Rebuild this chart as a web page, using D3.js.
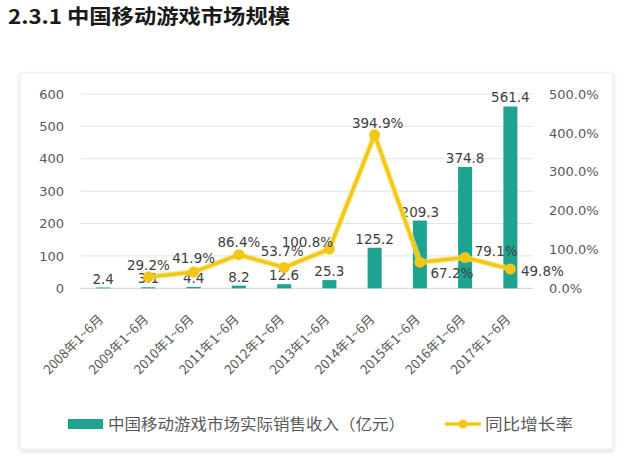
<!DOCTYPE html>
<html><head><meta charset="utf-8">
<script src="https://cdn.jsdelivr.net/npm/d3@7/dist/d3.min.js"></script>
<style>
body{margin:0;background:#fff;}
svg{display:block;}
</style></head>
<body>
<svg id="c" width="640" height="463"></svg>
<script>
const categories = ["2008年1~6月","2009年1~6月","2010年1~6月","2011年1~6月","2012年1~6月","2013年1~6月","2014年1~6月","2015年1~6月","2016年1~6月","2017年1~6月"];
const revenue = [2.4, 3.1, 4.4, 8.2, 12.6, 25.3, 125.2, 209.3, 374.8, 561.4];
const growth = [null, 29.2, 41.9, 86.4, 53.7, 100.8, 394.9, 67.2, 79.1, 49.8];
const leftTicks = [0,100,200,300,400,500,600];
const rightTicks = [0,100,200,300,400,500];
// label offsets for growth labels [dx, dy] relative to point
const growthLabelOffset = [null,[0,-12],[0,-14],[0,-13],[-2,-16],[-22,-7],[3,-12],[32,11],[31,-7],[32,2]];
const title = "2.3.1 中国移动游戏市场规模";
const legendBar = "中国移动游戏市场实际销售收入（亿元）";
const legendLine = "同比增长率";

const teal = "#1fa391", gold = "#f3c814";
const svg = d3.select("#c");
const defs = svg.append("defs");
const f = defs.append("filter").attr("id","sh").attr("x","-5%").attr("y","-5%").attr("width","110%").attr("height","115%");
f.append("feDropShadow").attr("dx",0).attr("dy",2).attr("stdDeviation",2).attr("flood-color","#000").attr("flood-opacity",0.12);

svg.append("text").attr("x",8).attr("y",24).text(title)
  .attr("font-family","'Noto Sans CJK SC', sans-serif").attr("font-weight","bold")
  .attr("font-size",20).attr("fill","#1a1a1a")
  .attr("textLength",282).attr("lengthAdjust","spacingAndGlyphs");

svg.append("rect").attr("x",20).attr("y",73).attr("width",593).attr("height",376)
  .attr("fill","#fff").attr("stroke","#ececec").attr("filter","url(#sh)");

const x = d3.scaleBand().domain(categories).range([80.5,533]).padding(0);
const yL = d3.scaleLinear().domain([0,600]).range([288.3,94]);
const yR = d3.scaleLinear().domain([0,500]).range([288.3,94]);
const cx = d => x(d) + x.bandwidth()/2;
const barW = x.bandwidth()*0.31;

// gridlines
svg.append("g").selectAll("line").data(leftTicks).join("line")
  .attr("x1",80.5).attr("x2",533).attr("y1",d=>yL(d)).attr("y2",d=>yL(d))
  .attr("stroke",d=>d===0?"#d0d0d0":"#e4e4e4").attr("stroke-width",1);

const numFont = "'DejaVu Sans', sans-serif";
// left axis
const axL = svg.append("g").attr("transform","translate(64,0)")
  .call(d3.axisLeft(yL).tickValues(leftTicks).tickSize(0).tickPadding(0));
axL.select(".domain").remove();
axL.selectAll("text").attr("font-family",numFont).attr("font-size",13).attr("fill","#595959");
// right axis
const axR = svg.append("g").attr("transform","translate(549,0)")
  .call(d3.axisRight(yR).tickValues(rightTicks).tickSize(0).tickPadding(0).tickFormat(d=>d.toFixed(1)+"%"));
axR.select(".domain").remove();
axR.selectAll("text").attr("font-family",numFont).attr("font-size",13).attr("fill","#595959");

// bars
svg.append("g").selectAll("rect").data(categories).join("rect")
  .attr("x",(d)=>cx(d)-barW/2).attr("width",barW)
  .attr("y",(d,i)=>yL(revenue[i])).attr("height",(d,i)=>yL(0)-yL(revenue[i]))
  .attr("fill",teal);

// bar labels
svg.append("g").selectAll("text").data(categories).join("text")
  .attr("x",d=>cx(d)).attr("y",(d,i)=>yL(revenue[i])-9)
  .attr("text-anchor","middle").attr("dominant-baseline","central")
  .attr("font-family",numFont).attr("font-size",13.5).attr("fill","#404040")
  .text((d,i)=>revenue[i]);

// line
const pts = categories.map((c,i)=>({c,v:growth[i],i})).filter(p=>p.v!==null);
const line = d3.line().x(p=>cx(p.c)).y(p=>yR(p.v));
svg.append("path").datum(pts).attr("d",line).attr("fill","none")
  .attr("stroke","#f8e27a").attr("stroke-width",6).attr("stroke-linejoin","round").attr("opacity",0.7);
svg.append("path").datum(pts).attr("d",line).attr("fill","none")
  .attr("stroke",gold).attr("stroke-width",3.5).attr("stroke-linejoin","round");
svg.append("g").selectAll("circle").data(pts).join("circle")
  .attr("cx",p=>cx(p.c)).attr("cy",p=>yR(p.v)).attr("r",5.5).attr("fill",gold);

svg.append("g").selectAll("text").data(pts).join("text")
  .attr("x",p=>cx(p.c)+growthLabelOffset[p.i][0]).attr("y",p=>yR(p.v)+growthLabelOffset[p.i][1])
  .attr("text-anchor","middle").attr("dominant-baseline","central")
  .attr("font-family",numFont).attr("font-size",13.5).attr("fill","#404040")
  .text(p=>p.v.toFixed(1)+"%");

// x labels
svg.append("g").selectAll("text").data(categories).join("text")
  .attr("transform",d=>`translate(${cx(d)+1},320) rotate(-45)`)
  .attr("text-anchor","end")
  .attr("font-family","'Noto Sans CJK SC', sans-serif").attr("font-size",13).attr("fill","#595959")
  .attr("textLength",78).attr("lengthAdjust","spacingAndGlyphs")
  .text(d=>d);

// legend
svg.append("rect").attr("x",68).attr("y",419).attr("width",35).attr("height",10).attr("fill",teal);
svg.append("text").attr("x",108).attr("y",430).text(legendBar)
  .attr("font-family","'Noto Sans CJK SC', sans-serif").attr("font-size",15.5).attr("fill","#595959")
  .attr("textLength",297).attr("lengthAdjust","spacingAndGlyphs");
svg.append("line").attr("x1",445).attr("x2",481).attr("y1",424).attr("y2",424)
  .attr("stroke",gold).attr("stroke-width",3.5);
svg.append("circle").attr("cx",463).attr("cy",424).attr("r",4.5).attr("fill",gold);
svg.append("text").attr("x",485).attr("y",430).text(legendLine)
  .attr("font-family","'Noto Sans CJK SC', sans-serif").attr("font-size",15.5).attr("fill","#595959")
  .attr("textLength",88).attr("lengthAdjust","spacingAndGlyphs");
</script>
</body></html>
